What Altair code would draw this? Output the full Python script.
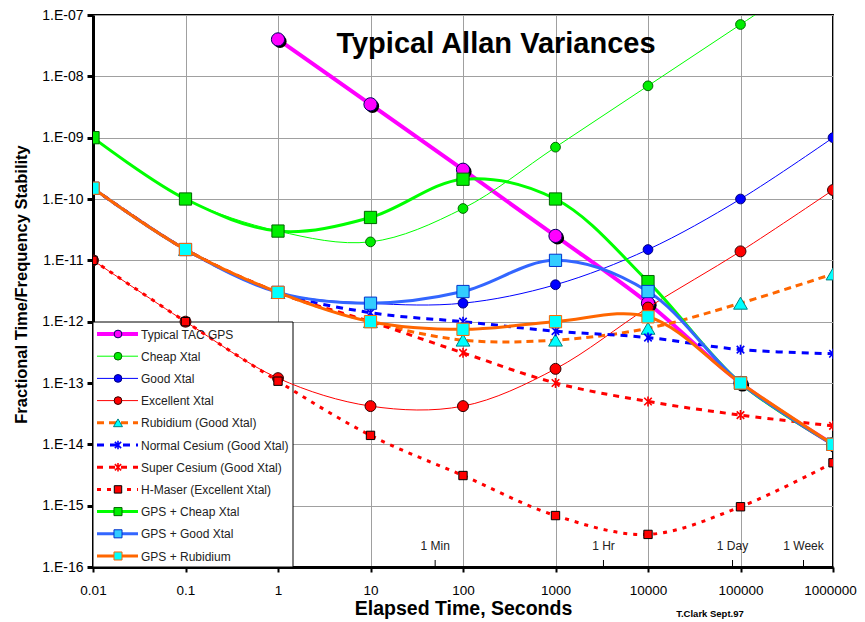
import altair as alt
import pandas as pd

# ---------------- data ----------------
tau = [0.01, 0.1, 1, 10, 100, 1000, 10000, 100000, 1000000]

series_names = [
    "Typical TAC GPS",
    "Cheap Xtal",
    "Good Xtal",
    "Excellent Xtal",
    "Rubidium (Good Xtal)",
    "Normal Cesium (Good Xtal)",
    "Super Cesium (Good Xtal)",
    "H-Maser (Excellent Xtal)",
    "GPS + Cheap Xtal",
    "GPS + Good Xtal",
    "GPS + Rubidium",
]

typical_tac_gps = [None, None, 4.0e-8, 3.5e-9, 3.0e-10, 2.5e-11, 2.0e-12, 1.0e-13, 1.0e-14]
cheap_xtal      = [1.0e-9, 1.0e-10, 3.0e-11, 2.0e-11, 7.0e-11, 7.0e-10, 7.0e-9, 7.0e-8, 7.0e-7]
good_xtal       = [1.5e-10, 1.5e-11, 3.0e-12, 2.0e-12, 2.0e-12, 4.0e-12, 1.5e-11, 1.0e-10, 1.0e-9]
excellent_xtal  = [1.0e-11, 1.0e-12, 1.2e-13, 4.2e-14, 4.2e-14, 1.7e-13, 1.7e-12, 1.4e-11, 1.4e-10]
rubidium        = [1.5e-10, 1.5e-11, 3.0e-12, 1.0e-12, 5.0e-13, 5.0e-13, 7.8e-13, 2.0e-12, 6.0e-12]
normal_cesium   = [1.5e-10, 1.5e-11, 3.0e-12, 1.4e-12, 1.0e-12, 7.0e-13, 5.5e-13, 3.5e-13, 3.0e-13]
super_cesium    = [1.5e-10, 1.5e-11, 3.0e-12, 1.0e-12, 3.1e-13, 1.0e-13, 5.0e-14, 3.0e-14, 2.0e-14]
h_maser         = [1.0e-11, 1.0e-12, 1.07e-13, 1.4e-14, 3.1e-15, 6.9e-16, 3.4e-16, 9.6e-16, 5.0e-15]
gps_cheap       = [1.0e-9, 1.0e-10, 3.0e-11, 5.0e-11, 2.1e-10, 1.0e-10, 4.5e-12, 1.0e-13, 1.0e-14]
gps_good        = [1.5e-10, 1.5e-11, 3.0e-12, 2.0e-12, 3.1e-12, 1.0e-11, 3.1e-12, 1.0e-13, 1.0e-14]
gps_rubidium    = [1.5e-10, 1.5e-11, 3.0e-12, 1.0e-12, 7.5e-13, 1.0e-12, 1.2e-12, 1.0e-13, 1.0e-14]

series_values = [typical_tac_gps, cheap_xtal, good_xtal, excellent_xtal, rubidium,
                 normal_cesium, super_cesium, h_maser, gps_cheap, gps_good, gps_rubidium]

y_ticks = [1e-16, 1e-15, 1e-14, 1e-13, 1e-12, 1e-11, 1e-10, 1e-9, 1e-8, 1e-7]
y_tick_labels = ["1.E-16", "1.E-15", "1.E-14", "1.E-13", "1.E-12", "1.E-11",
                 "1.E-10", "1.E-09", "1.E-08", "1.E-07"]
x_tick_labels = ["0.01", "0.1", "1", "10", "100", "1000", "10000", "100000", "1000000"]

marker_names = ["1 Min", "1 Hr", "1 Day", "1 Week"]
marker_times = [50, 3300, 82000, 480000]

title_text = "Typical Allan Variances"
credit_text = "T.Clark  Sept.97"

# ---------------- styles ----------------
ASTERISK = "M-0.75,-0.75L0.75,0.75M-0.75,0.75L0.75,-0.75M0,-1L0,1"
styles = [
    dict(line="#FF00FF", width=4, dash=None, shape="circle", fill="#FF00FF", stroke="#000060", size=175, lsize=60, shadow=True),
    dict(line="#00FF00", width=1, dash=None, shape="circle", fill="#00EE00", stroke="#006600", size=95, lsize=60),
    dict(line="#0000FF", width=1, dash=None, shape="circle", fill="#0000FF", stroke="#000080", size=95, lsize=60),
    dict(line="#FF0000", width=1, dash=None, shape="circle", fill="#FF0000", stroke="#300000", size=120, lsize=60),
    dict(line="#FF6600", width=3, dash=[7, 5], shape="triangle-up", fill="#00FFFF", stroke="#008080", size=190, lsize=80),
    dict(line="#0000FF", width=3, dash=[7, 6], shape=ASTERISK, fill=None, stroke="#0000FF", size=100, lsize=70),
    dict(line="#FF0000", width=3, dash=[6, 6], shape=ASTERISK, fill=None, stroke="#FF0000", size=100, lsize=70),
    dict(line="#FF0000", width=3, dash=[4, 6], shape="square", fill="#FF0000", stroke="#000000", size=70, lsize=55),
    dict(line="#00FF00", width=3, dash=None, shape="square", fill="#00EE00", stroke="#006600", size=150, lsize=65),
    dict(line="#3366FF", width=3, dash=None, shape="square", fill="#33CCFF", stroke="#0033CC", size=150, lsize=65),
    dict(line="#FF6600", width=3, dash=None, shape="square", fill="#00FFFF", stroke="#FF6600", size=150, lsize=65),
]

FONT = "Liberation Sans"

X = alt.X("t:Q",
          scale=alt.Scale(type="log", domain=[0.01, 1e6], nice=False),
          axis=alt.Axis(values=tau,
                        labelExpr="[" + ",".join(f"'{s}'" for s in x_tick_labels) + "][round(log(datum.value)/LN10)+2]",
                        title="Elapsed Time, Seconds", titleFontSize=19.5, titleFontWeight="bold",
                        titlePadding=3, labelFontSize=13.5, labelPadding=11, tickSize=5, tickWidth=2,
                        labelOffset={"condition": {"test": "datum.value > 500000", "value": -3}, "value": 0},
                        domainWidth=3, labelFlush=False, labelOverlap=False))
Y = alt.Y("v:Q",
          scale=alt.Scale(type="log", domain=[1e-16, 1e-7], nice=False),
          axis=alt.Axis(values=y_ticks,
                        labelExpr="[" + ",".join(f"'{s}'" for s in y_tick_labels) + "][round(log(datum.value)/LN10)+16]",
                        title="Fractional Time/Frequency Stability", titleFontSize=16.5, titleFontWeight="bold",
                        titleX=-72, titleY=269, titleAngle=270, titleBaseline="middle", titleAlign="center",
                        labelFontSize=14, labelPadding=4, tickSize=6, tickWidth=3,
                        domainWidth=3, labelFlush=False, labelOverlap=False))

layers = []

# legend box (under the data, above the grid)
legend_box = alt.Chart(pd.DataFrame({"k": [0]})).mark_rect(
    fill="white", stroke="black", strokeWidth=1
).encode(x=alt.value(0), x2=alt.value(200), y=alt.value(307), y2=alt.value(552))
layers.append(legend_box)

# data series
for name, vals, st in zip(series_names, series_values, styles):
    df = pd.DataFrame({"t": tau, "v": vals, "s": name}).dropna()
    line_kw = dict(color=st["line"], strokeWidth=st["width"], interpolate="catmull-rom", clip=True)
    if st["dash"]:
        line_kw["strokeDash"] = st["dash"]
    layers.append(alt.Chart(df).mark_line(**line_kw).encode(x=X, y=Y))
    if st.get("shadow"):
        layers.append(alt.Chart(df).mark_point(
            shape="circle", filled=True, color="#000000", size=st["size"], opacity=1,
            xOffset=2, yOffset=2, clip=True).encode(x=X, y=Y))
    if st["fill"] is None:
        pt = alt.Chart(df).mark_point(shape=st["shape"], filled=False, color=st["stroke"],
                                      strokeWidth=1.6, size=st["size"], opacity=1, clip=True)
    else:
        pt = alt.Chart(df).mark_point(shape=st["shape"], filled=True, fill=st["fill"],
                                      stroke=st["stroke"], strokeWidth=1, size=st["size"],
                                      opacity=1, fillOpacity=1, clip=True)
    layers.append(pt.encode(x=X, y=Y))

# legend entries
for i, (name, st) in enumerate(zip(series_names, styles)):
    ly = 319 + 22.2 * i
    d = pd.DataFrame({"name": [name]})
    rule_kw = dict(color=st["line"], strokeWidth=st["width"])
    if st["dash"]:
        rule_kw["strokeDash"] = st["dash"]
    layers.append(alt.Chart(d).mark_rule(**rule_kw).encode(
        x=alt.value(4), x2=alt.value(45), y=alt.value(ly)))
    if st["fill"] is None:
        lp = alt.Chart(d).mark_point(shape=st["shape"], filled=False, color=st["stroke"],
                                     strokeWidth=1.6, size=st["lsize"], opacity=1)
    else:
        lp = alt.Chart(d).mark_point(shape=st["shape"], filled=True, fill=st["fill"],
                                     stroke=st["stroke"], strokeWidth=1, size=st["lsize"],
                                     opacity=1, fillOpacity=1)
    layers.append(lp.encode(x=alt.value(25), y=alt.value(ly)))
    layers.append(alt.Chart(d).mark_text(align="left", baseline="middle", font=FONT,
                                         fontSize=12, color="#222222").encode(
        x=alt.value(48), y=alt.value(ly + 0.5), text="name:N"))

# time markers (1 Min, 1 Hr, 1 Day, 1 Week)
mk = pd.DataFrame({"t": marker_times, "label": marker_names})
layers.append(alt.Chart(mk).mark_rule(color="black", strokeWidth=1).encode(
    x=X, y=alt.value(545), y2=alt.value(552)))
layers.append(alt.Chart(mk).mark_text(align="center", baseline="alphabetic", font=FONT,
                                      fontSize=12, color="#222222").encode(
    x=X, y=alt.value(535), text="label:N"))

# title and credit
layers.append(alt.Chart(pd.DataFrame({"txt": [title_text]})).mark_text(
    align="center", baseline="alphabetic", font=FONT, fontSize=29, fontWeight="bold",
    color="black").encode(x=alt.value(403), y=alt.value(38), text="txt:N"))
layers.append(alt.Chart(pd.DataFrame({"txt": [credit_text]})).mark_text(
    align="center", baseline="alphabetic", font=FONT, fontSize=9.5, fontWeight="bold",
    color="black").encode(x=alt.value(617), y=alt.value(602), text="txt:N"))

chart = alt.layer(*layers).properties(
    width=740, height=552,
    autosize=alt.AutoSizeParams(type="none"),
    padding={"left": 85, "top": 7, "right": 24, "bottom": 54},
    background="white",
).configure_view(
    stroke="black", strokeWidth=2
).configure_axis(
    labelFont=FONT, titleFont=FONT, labelColor="black", titleColor="black",
    domainColor="black", tickColor="black", gridColor="#A0A0A0", gridWidth=1, grid=True,
)

chart.save("out.html", embed_options={"renderer": "svg", "actions": False})
